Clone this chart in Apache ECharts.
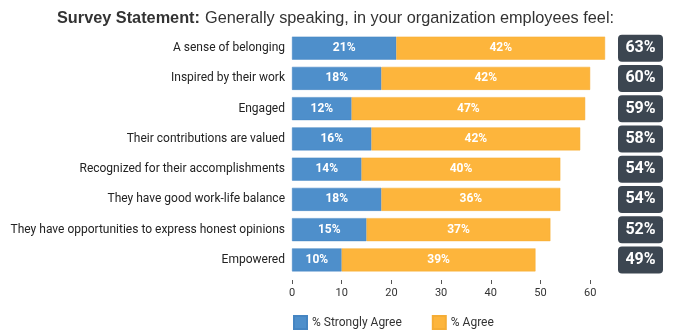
<!DOCTYPE html>
<html><head><meta charset="utf-8">
<script src="https://cdn.jsdelivr.net/npm/echarts@6/dist/echarts.min.js"></script>
<style>html,body{margin:0;padding:0;background:#fff}#c{width:677px;height:336px}</style>
</head><body><div id="c"></div>
<script>
const categories = [
  "A sense of belonging",
  "Inspired by their work",
  "Engaged",
  "Their contributions are valued",
  "Recognized for their accomplishments",
  "They have good work-life balance",
  "They have opportunities to express honest opinions",
  "Empowered"
];
const stronglyAgree = [21, 18, 12, 16, 14, 18, 15, 10];
const agree = [42, 42, 47, 42, 40, 36, 37, 39];
const totals = [63, 60, 59, 58, 54, 54, 52, 49];
const xTicks = [0, 10, 20, 30, 40, 50, 60];

const chart = echarts.init(document.getElementById('c'), null, {renderer: 'canvas'});
const font = 'Roboto';
chart.setOption({
  animation: false,
  title: {
    text: '{b|Survey Statement:} {n|Generally speaking, in your organization employees feel:}',
    left: 52, top: 5,
    textStyle: {
      fontWeight: 'normal',
      rich: {
        b: {fontFamily: 'Liberation Sans', fontWeight: 'bold', fontSize: 16.3, color: '#333'},
        n: {fontFamily: 'Liberation Sans', fontWeight: 'normal', fontSize: 16.3, color: '#333'}
      }
    }
  },
  legend: {
    bottom: 1, left: 288, itemGap: 30, itemWidth: 13, itemHeight: 13,
    icon: 'rect',
    textStyle: {fontFamily: font, fontSize: 12, color: '#333'},
    data: ['% Strongly Agree', '% Agree']
  },
  grid: {left: 292, right: 62, top: 33, bottom: 61, containLabel: false, outerBoundsMode: 'none'},
  xAxis: {
    type: 'value', min: 0, max: 65,
    splitLine: {show: false},
    axisLine: {show: false},
    axisTick: {show: true, length: 4, customValues: xTicks, lineStyle: {color: '#555'}},
    offset: 5,
    axisLabel: {fontFamily: font, fontSize: 11, color: '#333', margin: 8, customValues: xTicks}
  },
  yAxis: [{
    type: 'category', inverse: true, data: categories,
    axisLine: {show: false}, axisTick: {show: false},
    axisLabel: {fontFamily: font, fontSize: 12, color: '#222', margin: 7}
  }, {
    type: 'category', inverse: true, position: 'right', data: totals.map(t => t + '%'),
    axisLine: {show: false}, axisTick: {show: false},
    axisLabel: {
      margin: 3,
      formatter: v => '{box|' + v + '}',
      rich: {
        box: {
          fontFamily: font, fontWeight: 'bold', fontSize: 16, color: '#fff',
          backgroundColor: '#3c4651', borderRadius: 4,
          width: 45, height: 27, lineHeight: 27, align: 'center'
        }
      }
    }
  }],
  series: [{
    name: '% Strongly Agree', type: 'bar', stack: 's', data: stronglyAgree,
    barWidth: 23,
    itemStyle: {color: '#4e8fcb', borderColor: '#4585c2', borderWidth: 0.5},
    label: {show: true, position: 'inside', formatter: '{c}%', color: '#fff',
      fontFamily: font, fontWeight: 'bold', fontSize: 12}
  }, {
    name: '% Agree', type: 'bar', stack: 's', data: agree,
    barWidth: 23,
    itemStyle: {color: '#fdb53c', borderColor: '#f5ad35', borderWidth: 0.5},
    label: {show: true, position: 'inside', formatter: '{c}%', color: '#fff',
      fontFamily: font, fontWeight: 'bold', fontSize: 12}
  }]
});
</script></body></html>
